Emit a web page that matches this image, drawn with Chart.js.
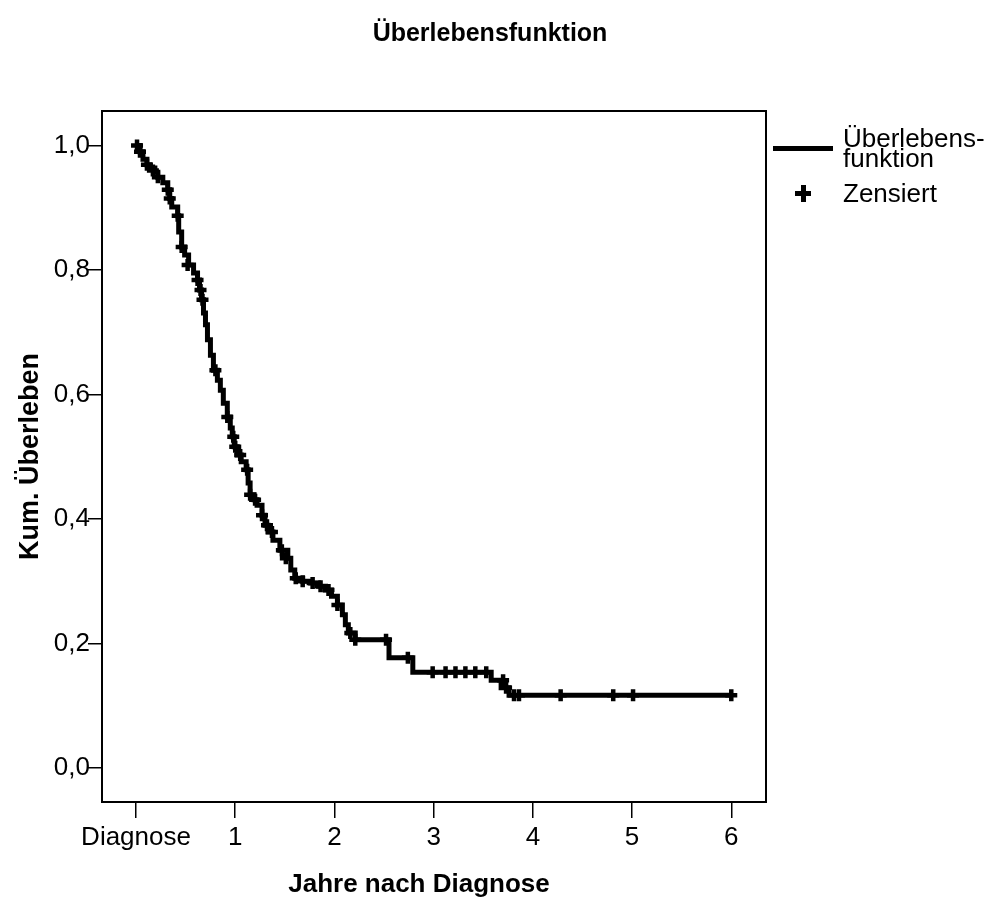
<!DOCTYPE html>
<html>
<head>
<meta charset="utf-8">
<script src="https://cdn.jsdelivr.net/npm/chart.js@4.4.1/dist/chart.umd.min.js"></script>
<style>
  body { margin: 0; background: #fff; font-family: "Liberation Sans", Arial, sans-serif; }
  #wrap { position: relative; width: 1001px; height: 897px; }
  #title { position: absolute; left: 0; width: 980px; top: 17px; text-align: center;
           font-weight: bold; font-size: 25px; line-height: 30px; color: #000; }
  #xtitle { position: absolute; left: 0; width: 838px; top: 867px; text-align: center;
            font-weight: bold; font-size: 26px; line-height: 32px; color: #000; }
  .leg { position: absolute; font-size: 26px; color: #000; line-height: 20px; }
  #legLine { position: absolute; left: 773px; top: 146px; width: 60px; height: 5px; background: #000; }
  .plusH { position: absolute; left: 795px; top: 191px; width: 16px; height: 5px; background: #000; }
  .plusV { position: absolute; left: 801px; top: 185px; width: 5px; height: 17px; background: #000; }
</style>
</head>
<body>
<div id="wrap">
  <canvas id="km" width="1001" height="897"></canvas>
  <div id="title">Überlebensfunktion</div>
  <div id="xtitle">Jahre nach Diagnose</div>
  <div id="legLine"></div>
  <div class="leg" style="left:843px; top:128px;">Überlebens-<br>funktion</div>
  <div class="plusH"></div><div class="plusV"></div>
  <div class="leg" style="left:843px; top:183px;">Zensiert</div>
</div>
<script>
// Kaplan-Meier steps (time in years, cumulative survival after the step)
const stepTimes = [0.00, 0.04, 0.07, 0.11, 0.14, 0.19, 0.22, 0.27, 0.32, 0.34, 0.36, 0.42, 0.43, 0.46, 0.49,
  0.53, 0.58, 0.62, 0.64, 0.66, 0.68, 0.70, 0.72, 0.75, 0.78, 0.82, 0.85, 0.88, 0.92, 0.95, 0.97, 0.99,
  1.02, 1.06, 1.11, 1.13, 1.15, 1.19, 1.22, 1.27, 1.30, 1.33, 1.38, 1.45, 1.53, 1.56, 1.60, 1.68, 1.76,
  1.84, 1.91, 1.97, 2.03, 2.08, 2.11, 2.14, 2.21, 2.55, 2.79, 3.58, 3.68, 3.76, 6.00];
const stepSurv = [1.000, 0.990, 0.978, 0.969, 0.964, 0.957, 0.949, 0.940, 0.929, 0.915, 0.901, 0.887, 0.861, 0.837, 0.824,
  0.808, 0.795, 0.784, 0.768, 0.752, 0.731, 0.712, 0.688, 0.663, 0.639, 0.623, 0.607, 0.586, 0.564, 0.546, 0.532, 0.516,
  0.503, 0.492, 0.479, 0.458, 0.439, 0.431, 0.422, 0.406, 0.390, 0.379, 0.366, 0.350, 0.337, 0.318, 0.305, 0.300, 0.297,
  0.292, 0.286, 0.276, 0.262, 0.246, 0.230, 0.217, 0.206, 0.177, 0.154, 0.141, 0.129, 0.117, 0.117];

// Censored observations
const censorTimes = [0.01, 0.04, 0.11, 0.17, 0.22, 0.32, 0.34, 0.42, 0.46, 0.52, 0.62, 0.65, 0.67, 0.80, 0.92, 0.98,
  1.00, 1.05, 1.12, 1.15, 1.20, 1.27, 1.32, 1.37, 1.47, 1.51, 1.61, 1.68, 1.78, 1.86, 1.94, 2.03, 2.16, 2.21,
  2.52, 2.74, 2.99, 3.12, 3.22, 3.32, 3.42, 3.53, 3.70, 3.73, 3.81, 3.86, 4.28, 4.81, 5.01, 6.00];
const censorSurv = [1.000, 0.990, 0.969, 0.960, 0.949, 0.929, 0.915, 0.887, 0.837, 0.808, 0.784, 0.768, 0.752, 0.639, 0.564, 0.532,
  0.516, 0.503, 0.479, 0.439, 0.431, 0.406, 0.390, 0.379, 0.350, 0.337, 0.305, 0.300, 0.297, 0.292, 0.286, 0.262, 0.217, 0.206,
  0.206, 0.177, 0.154, 0.154, 0.154, 0.154, 0.154, 0.154, 0.141, 0.129, 0.117, 0.117, 0.117, 0.117, 0.117, 0.117];

const xTicks = [0, 1, 2, 3, 4, 5, 6];
const xTickLabels = ['Diagnose', '1', '2', '3', '4', '5', '6'];
const yTicks = [0, 0.2, 0.4, 0.6, 0.8, 1.0];

const font = "'Liberation Sans', Arial, sans-serif";

// black frame round the plot area
const framePlugin = {
  id: 'frame',
  afterDraw(chart) {
    const a = chart.chartArea, ctx = chart.ctx;
    ctx.save();
    ctx.strokeStyle = '#000';
    ctx.lineWidth = 2;
    ctx.strokeRect(a.left, a.top, a.right - a.left, a.bottom - a.top);
    ctx.restore();
  }
};

new Chart(document.getElementById('km'), {
  type: 'scatter',
  data: {
    datasets: [
      {
        label: 'Zensiert',
        data: censorTimes.map((t, i) => ({ x: t, y: censorSurv[i] })),
        pointStyle: 'cross',
        pointRadius: 6,
        pointBorderWidth: 4.5,
        borderColor: '#000',
        backgroundColor: '#000',
        showLine: false,
        order: 0
      },
      {
        label: 'Überlebensfunktion',
        data: stepTimes.map((t, i) => ({ x: t, y: stepSurv[i] })),
        showLine: true,
        stepped: true,
        borderColor: '#000',
        borderWidth: 5,
        pointRadius: 0,
        order: 1
      }
    ]
  },
  options: {
    responsive: false,
    animation: false,
    layout: { padding: { left: 0, top: 111, right: 235, bottom: 0 } },
    plugins: {
      legend: { display: false },
      title: { display: false },
      tooltip: { enabled: false }
    },
    scales: {
      x: {
        type: 'linear',
        min: -0.343,
        max: 6.35,
        afterFit: s => { s.height = 95; },
        afterBuildTicks: s => { s.ticks = xTicks.map(v => ({ value: v })); },
        border: { display: false },
        grid: { drawOnChartArea: false, drawTicks: true, tickLength: 16, color: '#000', lineWidth: 1.5 },
        ticks: {
          color: '#000',
          font: { family: font, size: 26 },
          padding: 4,
          autoSkip: false,
          maxRotation: 0,
          callback: v => xTickLabels[xTicks.indexOf(v)]
        }
      },
      y: {
        type: 'linear',
        min: -0.0546,
        max: 1.0554,
        afterFit: s => { s.width = 102; },
        afterBuildTicks: s => { s.ticks = yTicks.map(v => ({ value: v })); },
        border: { display: false },
        grid: { drawOnChartArea: false, drawTicks: true, tickLength: 14, color: '#000', lineWidth: 1.5 },
        ticks: {
          color: '#000',
          font: { family: font, size: 26 },
          padding: -2,
          autoSkip: false,
          callback: v => v.toFixed(1).replace('.', ',')
        },
        title: {
          display: true,
          text: 'Kum. Überleben',
          color: '#000',
          font: { family: font, size: 27, weight: 'bold' },
          padding: { top: 14, bottom: 0 }
        }
      }
    }
  },
  plugins: [framePlugin]
});
</script>
</body>
</html>
